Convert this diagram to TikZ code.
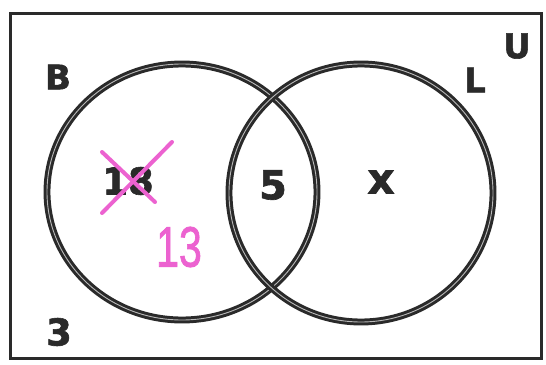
\documentclass[tikz,border=0pt]{standalone}
\usepackage{fontspec}
\setmainfont{DejaVu Sans}
\newfontfamily\heavyfont[FakeBold=1.6]{DejaVu Sans Bold}
\newfontfamily\handfont[FakeBold=1.5]{Liberation Sans}
\definecolor{ink}{HTML}{2A2A2A}
\definecolor{pinkpen}{HTML}{EC62D0}
\tikzset{
  setring/.style={draw=ink, line width=3pt, double=gray!55, double distance=0.9pt},
  lbl/.style={text=ink, font=\heavyfont\fontsize{34}{34}\selectfont, inner sep=0pt},
  num/.style={text=ink, font=\heavyfont\fontsize{37}{37}\selectfont, inner sep=0pt},
  penstroke/.style={draw=pinkpen, line width=4pt, line cap=round}
}
\begin{document}
\begin{tikzpicture}[x=1pt,y=-1pt]
\useasboundingbox (0,0) rectangle (546,364);
\fill[white] (0,0) rectangle (546,364);
% universe
\draw[draw=ink, line width=3pt] (10,13) rectangle (541,358);
% sets
\draw[setring] (182,192) ellipse [x radius=135, y radius=128];
\draw[setring] (361,193) ellipse [x radius=132, y radius=129];
% labels
\node[lbl] (U) at (517,46) {U};
\node[lbl] (B) at (58,77) {B};
\node[lbl] (L) at (475,80) {L};
\node[num] (three) at (59,332) {3};
\node[num] (eighteen) at (128,181) {18};
\node[num, font=\heavyfont\fontsize{40}{40}\selectfont] (five) at (273,185) {5};
\node[lbl, font=\heavyfont\fontsize{42}{42}\selectfont] (xval) at (381,182) {x};
% pink correction
\coordinate (c1a) at (102,152);
\coordinate (c1b) at (155,202);
\coordinate (c2a) at (172,142);
\coordinate (c2b) at (102,213);
\draw[penstroke] (c1a) -- (c1b);
\draw[penstroke] (c2a) -- (c2b);
\node[text=pinkpen, font=\handfont\fontsize{57}{57}\selectfont, inner sep=0pt, xscale=0.72] (thirteen) at (179,247) {13};
\end{tikzpicture}
\end{document}
